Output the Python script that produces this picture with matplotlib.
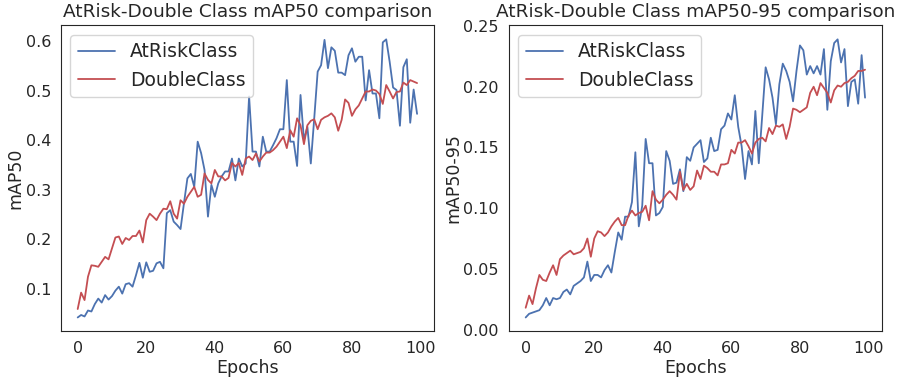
import numpy as np
import matplotlib
matplotlib.use('Agg')
import matplotlib.pyplot as plt
import seaborn as sns

sns.set_style('white')
plt.rcParams['font.family'] = ['DejaVu Sans']

epochs = np.arange(100)

# mAP50 per epoch
atrisk_map50 = [
    0.043, 0.048, 0.045, 0.057, 0.055, 0.070, 0.081, 0.073, 0.088, 0.079,
    0.086, 0.097, 0.105, 0.091, 0.110, 0.112, 0.105, 0.128, 0.153, 0.123,
    0.154, 0.135, 0.137, 0.152, 0.155, 0.142, 0.253, 0.259, 0.236, 0.229,
    0.221, 0.273, 0.323, 0.332, 0.306, 0.397, 0.374, 0.340, 0.246, 0.310,
    0.286, 0.313, 0.327, 0.337, 0.337, 0.363, 0.319, 0.363, 0.347, 0.353,
    0.488, 0.377, 0.377, 0.347, 0.407, 0.377, 0.377, 0.390, 0.404, 0.422,
    0.422, 0.521, 0.397, 0.397, 0.348, 0.491, 0.400, 0.427, 0.353, 0.444,
    0.538, 0.551, 0.602, 0.545, 0.587, 0.580, 0.536, 0.536, 0.531, 0.571,
    0.585, 0.558, 0.568, 0.568, 0.480, 0.541, 0.494, 0.494, 0.444, 0.597,
    0.603, 0.558, 0.506, 0.501, 0.429, 0.547, 0.563, 0.435, 0.502, 0.453,
]
double_map50 = [
    0.060, 0.093, 0.078, 0.125, 0.148, 0.147, 0.145, 0.155, 0.165, 0.160,
    0.182, 0.204, 0.206, 0.191, 0.203, 0.199, 0.207, 0.207, 0.218, 0.194,
    0.239, 0.252, 0.246, 0.239, 0.252, 0.262, 0.261, 0.277, 0.252, 0.242,
    0.279, 0.272, 0.286, 0.296, 0.306, 0.286, 0.290, 0.333, 0.320, 0.313,
    0.340, 0.327, 0.327, 0.319, 0.324, 0.354, 0.347, 0.354, 0.330, 0.363,
    0.367, 0.360, 0.373, 0.357, 0.367, 0.375, 0.375, 0.380, 0.387, 0.397,
    0.407, 0.384, 0.420, 0.407, 0.444, 0.430, 0.392, 0.430, 0.439, 0.442,
    0.422, 0.441, 0.446, 0.449, 0.454, 0.446, 0.419, 0.441, 0.482, 0.475,
    0.449, 0.462, 0.470, 0.484, 0.498, 0.498, 0.502, 0.500, 0.493, 0.473,
    0.511, 0.498, 0.484, 0.497, 0.498, 0.516, 0.511, 0.521, 0.518, 0.515,
]

# mAP50-95 per epoch
atrisk_map50_95 = [
    0.010, 0.013, 0.014, 0.015, 0.016, 0.020, 0.026, 0.020, 0.026, 0.025,
    0.026, 0.031, 0.033, 0.029, 0.036, 0.038, 0.040, 0.043, 0.056, 0.040,
    0.045, 0.045, 0.043, 0.049, 0.053, 0.047, 0.064, 0.080, 0.074, 0.093,
    0.093, 0.105, 0.146, 0.085, 0.102, 0.157, 0.137, 0.137, 0.094, 0.096,
    0.101, 0.147, 0.139, 0.120, 0.121, 0.132, 0.114, 0.142, 0.139, 0.150,
    0.153, 0.156, 0.138, 0.141, 0.158, 0.147, 0.148, 0.165, 0.168, 0.178,
    0.173, 0.193, 0.167, 0.151, 0.124, 0.147, 0.136, 0.180, 0.137, 0.176,
    0.216, 0.206, 0.191, 0.169, 0.202, 0.219, 0.213, 0.204, 0.188, 0.213,
    0.234, 0.230, 0.210, 0.217, 0.211, 0.217, 0.210, 0.231, 0.181, 0.221,
    0.236, 0.239, 0.220, 0.231, 0.184, 0.204, 0.206, 0.186, 0.226, 0.191,
]
double_map50_95 = [
    0.018, 0.028, 0.021, 0.034, 0.045, 0.041, 0.040, 0.047, 0.053, 0.045,
    0.058, 0.061, 0.063, 0.065, 0.062, 0.063, 0.064, 0.067, 0.075, 0.060,
    0.075, 0.081, 0.080, 0.077, 0.080, 0.085, 0.089, 0.092, 0.086, 0.086,
    0.094, 0.098, 0.094, 0.096, 0.097, 0.102, 0.090, 0.114, 0.107, 0.104,
    0.107, 0.111, 0.114, 0.111, 0.107, 0.130, 0.115, 0.120, 0.115, 0.118,
    0.131, 0.124, 0.135, 0.133, 0.130, 0.130, 0.127, 0.136, 0.136, 0.137,
    0.148, 0.145, 0.154, 0.154, 0.156, 0.151, 0.145, 0.154, 0.157, 0.158,
    0.155, 0.166, 0.161, 0.168, 0.167, 0.169, 0.157, 0.167, 0.182, 0.181,
    0.179, 0.181, 0.183, 0.195, 0.200, 0.193, 0.203, 0.199, 0.195, 0.187,
    0.197, 0.201, 0.200, 0.203, 0.204, 0.207, 0.209, 0.213, 0.213, 0.214,
]

blue = '#4c72b0'
red = '#c44e52'

fig, axes = plt.subplots(1, 2, figsize=(8.97, 3.8), dpi=100)
fig.subplots_adjust(left=0.0677, right=0.9833, bottom=0.128, top=0.933, wspace=0.2)

panels = [
    (axes[0], atrisk_map50, double_map50, 'mAP50', 'AtRisk-Double Class mAP50 comparison'),
    (axes[1], atrisk_map50_95, double_map50_95, 'mAP50-95', 'AtRisk-Double Class mAP50-95 comparison'),
]

for ax, a, d, ylab, title in panels:
    ax.plot(epochs, a, color=blue, lw=1.3, label='AtRiskClass')
    ax.plot(epochs, d, color=red, lw=1.3, label='DoubleClass')
    ax.set_title(title, fontsize=13.3)
    ax.set_xlabel('Epochs', fontsize=12.5, labelpad=2)
    ax.set_ylabel(ylab, fontsize=12.5, labelpad=1)
    ax.tick_params(labelsize=11.5)
    ax.legend(loc='upper left', fontsize=13.5)

axes[1].yaxis.set_major_formatter(matplotlib.ticker.FormatStrFormatter('%.2f'))

plt.savefig('out.png')
plt.close()
